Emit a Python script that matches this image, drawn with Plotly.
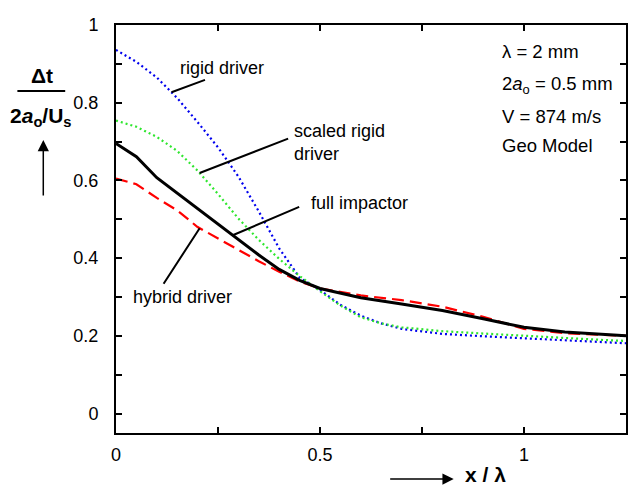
import numpy as np
import plotly.graph_objects as go

# ---------------- data ----------------
x_full = [0, 0.05, 0.1, 0.15, 0.2, 0.25, 0.3, 0.35, 0.4, 0.45, 0.5, 0.6, 0.7, 0.8, 0.9, 1.0, 1.1, 1.2, 1.25]
y_full = [0.695, 0.661, 0.607, 0.567, 0.527, 0.487, 0.448, 0.408, 0.371, 0.343, 0.322, 0.298, 0.282,
          0.265, 0.244, 0.222, 0.21, 0.203, 0.2]

x_rigid = [0, 0.05, 0.1, 0.15, 0.2, 0.25, 0.3, 0.35, 0.4, 0.45, 0.5, 0.55, 0.6, 0.65, 0.7, 0.8, 0.9,
           1.0, 1.1, 1.2, 1.25]
y_rigid = [0.936, 0.905, 0.865, 0.812, 0.75, 0.685, 0.61, 0.52, 0.425, 0.35, 0.318, 0.28, 0.252, 0.232,
           0.218, 0.205, 0.199, 0.194, 0.19, 0.184, 0.181]

x_scaled = [0, 0.05, 0.1, 0.15, 0.2, 0.25, 0.3, 0.35, 0.4, 0.45, 0.5, 0.55, 0.6, 0.65, 0.7, 0.8, 0.9,
            1.0, 1.1, 1.2, 1.25]
y_scaled = [0.754, 0.738, 0.712, 0.676, 0.625, 0.565, 0.502, 0.447, 0.398, 0.354, 0.315, 0.278, 0.248,
            0.232, 0.222, 0.212, 0.206, 0.2, 0.195, 0.189, 0.187]

x_hybrid = [0, 0.05, 0.1, 0.15, 0.2, 0.25, 0.3, 0.35, 0.4, 0.45, 0.5, 0.6, 0.7, 0.8, 0.9, 1.0, 1.1, 1.2, 1.25]
y_hybrid = [0.605, 0.59, 0.555, 0.523, 0.48, 0.45, 0.42, 0.392, 0.365, 0.34, 0.322, 0.304, 0.292, 0.275,
            0.249, 0.218, 0.207, 0.202, 0.2]

x_tickvals = [0, 0.25, 0.5, 0.75, 1.0, 1.25]
x_ticktext = ["0", "", "0.5", "", "1", ""]
y_tickvals = [0, 0.1, 0.2, 0.3, 0.4, 0.5, 0.6, 0.7, 0.8, 0.9, 1.0]
y_ticktext = ["0", "", "0.2", "", "0.4", "", "0.6", "", "0.8", "", "1"]

info_lines = ["λ = 2 mm", "2<i>a</i><sub>o</sub> = 0.5 mm", "V = 874 m/s", "Geo Model"]

# ---------------- layout helpers ----------------
W, H = 629, 488
L, R, T, B = 116, 1, 25, 55
FONT = "Liberation Sans, Arial, Helvetica, sans-serif"
FS = 18


def px(xp):
    return (xp - L) / (W - L - R)


def py(yp):
    return (H - B - yp) / (H - T - B)


fig = go.Figure()
fig.add_trace(go.Scatter(x=x_rigid, y=y_rigid, mode="lines", name="rigid driver",
                         line=dict(color="#0000ee", width=2.2, dash="2px,3px")))
fig.add_trace(go.Scatter(x=x_scaled, y=y_scaled, mode="lines", name="scaled rigid driver",
                         line=dict(color="#2ee62e", width=2.2, dash="2px,3px")))
fig.add_trace(go.Scatter(x=x_hybrid, y=y_hybrid, mode="lines", name="hybrid driver",
                         line=dict(color="#ff0000", width=2.2, dash="12px,6px")))
fig.add_trace(go.Scatter(x=x_full, y=y_full, mode="lines", name="full impactor",
                         line=dict(color="black", width=3)))

ann = []


def text(t, xp, yp, size=FS, anchor="left", bold=False, yanchor="middle", align="left"):
    ann.append(dict(text=("<b>%s</b>" % t) if bold else t, x=px(xp), y=py(yp), xref="paper", yref="paper",
                    xanchor=anchor, yanchor=yanchor, showarrow=False, align=align,
                    font=dict(family=FONT, size=size, color="black")))


def pointer(xs, ys, xv, ax, ay):
    ann.append(dict(text="", x=xv, y=float(np.interp(xv, xs, ys)), xref="x", yref="y",
                    ax=ax, ay=ay, showarrow=True, arrowhead=0, arrowwidth=2, arrowcolor="black"))


# curve labels
text("rigid driver", 178, 68)
text("scaled rigid<br>driver", 293, 142)
text("full impactor", 310, 203)
text("hybrid driver", 131, 297)
pointer(x_rigid, y_rigid, 0.136, 35, -13)
pointer(x_scaled, y_scaled, 0.205, 90, -35)
pointer(x_full, y_full, 0.286, 68, -29)
pointer(x_hybrid, y_hybrid, 0.205, -37, 57)

# info block
for line, yc in zip(info_lines, [52, 85, 116, 145]):
    text(line, 502, yc, size=18.5)

# y-axis label
text("Δt", 42, 75, size=21, anchor="center", bold=True)
text("2<i>a</i><sub>o</sub>/U<sub>s</sub>", 41, 117, size=21, anchor="center", bold=True)
ann.append(dict(text="", x=px(43), y=py(140), xref="paper", yref="paper", ax=0, ay=57,
                showarrow=True, arrowhead=2, arrowsize=1.5, arrowwidth=1.5, arrowcolor="black"))

# x-axis label
text("x / λ", 464, 488, size=21, bold=True, yanchor="bottom")
ann.append(dict(text="", x=px(455), y=py(479), xref="paper", yref="paper", ax=-65, ay=0,
                showarrow=True, arrowhead=2, arrowsize=1.5, arrowwidth=1.5, arrowcolor="black"))

axis_common = dict(showline=True, linewidth=2, linecolor="black", mirror="ticks", ticks="inside",
                   ticklen=6, tickwidth=1.5, tickcolor="black", showgrid=False, zeroline=False,
                   tickfont=dict(family=FONT, size=18, color="black"))

fig.update_layout(
    width=W, height=H, margin=dict(l=L, r=R, t=T, b=B, pad=0),
    paper_bgcolor="white", plot_bgcolor="white", showlegend=False,
    xaxis=dict(range=[0, 1.25], tickmode="array", tickvals=x_tickvals, ticktext=x_ticktext,
               ticklabelstandoff=4, **axis_common),
    yaxis=dict(range=[-0.05, 1.0], tickmode="array", tickvals=y_tickvals, ticktext=y_ticktext,
               ticklabelstandoff=12, **axis_common),
    annotations=ann,
    shapes=[dict(type="line", xref="paper", yref="paper", x0=px(17), x1=px(65), y0=py(91), y1=py(91),
                 line=dict(color="black", width=2))],
)

fig.write_html("out.html")
